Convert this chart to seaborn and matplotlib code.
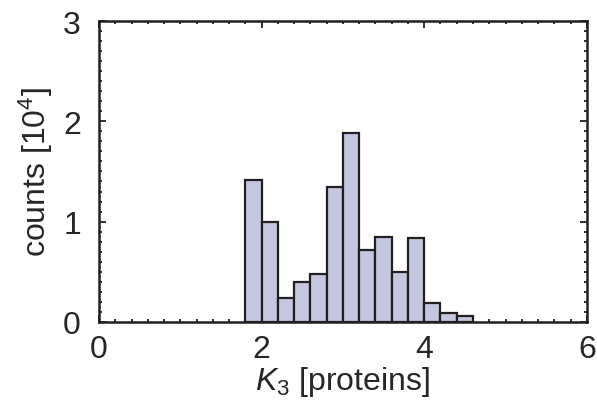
import numpy as np
import matplotlib
matplotlib.use("Agg")
import matplotlib.pyplot as plt
from matplotlib.ticker import MultipleLocator
import seaborn as sns

# Histogram of K3 values (bin edges in proteins, counts in units of 10^4)
bin_edges = [1.8, 2.0, 2.2, 2.4, 2.6, 2.8, 3.0, 3.2, 3.4, 3.6, 3.8, 4.0, 4.2, 4.4, 4.6]
counts = [1.41, 1.00, 0.24, 0.40, 0.48, 1.34, 1.88, 0.72, 0.85, 0.50, 0.84, 0.19, 0.087, 0.06]
x_ticks = [0, 2, 4, 6]
y_ticks = [0, 1, 2, 3]

centers = [(a + b) / 2 for a, b in zip(bin_edges[:-1], bin_edges[1:])]

sns.set_style("ticks")
plt.rcParams["font.family"] = ["Liberation Sans", "DejaVu Sans"]
plt.rcParams["mathtext.fontset"] = "custom"
plt.rcParams["mathtext.rm"] = "Liberation Sans"
plt.rcParams["mathtext.it"] = "Liberation Sans:italic"

fig = plt.figure(figsize=(5.97, 4.02), dpi=100)
ax = fig.add_axes([0.1658, 0.197, 0.8172, 0.748])

sns.histplot(x=centers, weights=counts, bins=bin_edges, ax=ax,
             color="#c5c6e0", alpha=1.0, edgecolor="#231f20", linewidth=1.6)

ax.set_xlim(0, 6)
ax.set_ylim(0, 3)
ax.set_xticks(x_ticks)
ax.set_yticks(y_ticks)
ax.xaxis.set_minor_locator(MultipleLocator(0.2))
ax.yaxis.set_minor_locator(MultipleLocator(0.1))
ax.tick_params(which="both", direction="in", top=True, right=True,
               color="#231f20", width=1.3)
ax.tick_params(which="major", length=5, labelsize=23)
ax.tick_params(axis="x", which="major", pad=9)
ax.tick_params(axis="y", which="major", pad=13)
ax.tick_params(which="minor", length=2.5)
for s in ax.spines.values():
    s.set_linewidth(1.8)
    s.set_color("#231f20")

ax.set_xlabel("$K_3$ [proteins]", fontsize=23, labelpad=0)
ax.set_ylabel("counts [10$^4$]", fontsize=23, labelpad=6)

fig.savefig("out.png", dpi=100)
